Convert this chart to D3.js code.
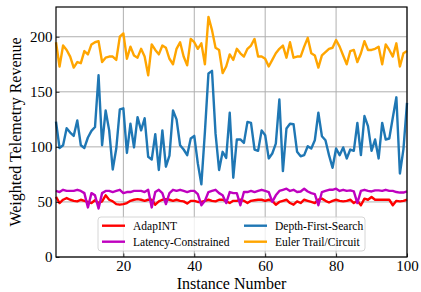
<!DOCTYPE html>
<html>
<head>
<meta charset="utf-8">
<script src="https://cdn.jsdelivr.net/npm/d3@7"></script>
<style>
  html, body { margin: 0; padding: 0; background: #fff; }
  svg text { font-family: "Liberation Serif", "DejaVu Serif", serif; }
</style>
</head>
<body>
<svg id="chart" width="421" height="292"></svg>
<script>
// Series values, instances 1..100
var adapint = [
    54.5, 49, 52, 53.5, 52, 51, 50.5, 52, 51, 50, 49, 51.5, 49, 50.5, 56, 52, 50.5, 48, 47.5, 48,
    49, 51, 52, 52.5, 52, 51, 52, 52, 47.5, 50.5, 52, 52.5, 52, 51, 52, 51, 50.5, 48.5, 51, 51,
    50, 50, 51, 52, 51, 50.5, 52, 52, 50.5, 49, 51, 51, 52, 51, 49, 51, 51.5, 52, 52, 51,
    52, 51, 47.5, 50, 51, 52, 49, 47.5, 50.5, 49, 52, 51, 50, 49, 52, 53, 51, 49.5, 51, 52,
    51, 50.5, 51, 52, 49, 51, 47, 53, 52, 54.5, 52, 52, 52, 52, 52, 47, 51, 50.5, 51, 52
];
var latency = [
    60, 59, 61, 60, 60, 60, 61, 60, 58, 45, 58, 56, 44, 58, 60, 60, 59, 60, 61, 58,
    59, 59, 60, 60, 60, 59, 61, 45, 59, 61, 58, 48, 58, 61, 60, 61, 60, 59, 60, 60,
    57, 47, 51, 59, 60, 61, 58, 56, 49, 59, 58, 58, 47, 59, 59, 60, 59, 60, 61, 60,
    59, 50, 56, 60, 61, 62, 60, 61, 59, 59.5, 62, 59.5, 58, 57, 47, 59, 60, 61, 61, 62,
    60, 61, 60, 60.5, 59.5, 49, 60, 61, 60, 59.5, 60.5, 60.5, 60, 61, 60, 60, 59, 58.5, 58.5, 59.5
];
var dfs = [
    123, 99, 101.5, 117, 113, 110, 124, 101.5, 99, 108.5, 114.5, 118, 165, 101.5, 133, 115, 79.5, 98.5, 134, 135,
    94.5, 121, 99.5, 127, 115, 126, 91, 88.5, 111.5, 79, 115, 82, 92, 133, 125, 101.5, 97.6, 92.5, 107.6, 110,
    85, 66, 113.6, 166.7, 169, 112, 79, 95.5, 90, 131, 72, 106.7, 106.7, 103.6, 122.7, 121.8, 97.6, 96.4, 115, 110.6,
    89.5, 94, 103, 143, 78, 116.7, 121, 120.6, 95.5, 91.5, 92.5, 100.6, 98.5, 106, 131, 109.7, 106, 92.5, 81, 98.5,
    92.5, 99.5, 89.5, 97.6, 96.4, 121.8, 92.5, 128, 118.8, 96.4, 106.7, 89.5, 121.8, 106.7, 107.6, 126.7, 145, 75.8, 98, 140
];
var euler = [
    195, 173, 192, 188, 182, 172, 177, 176, 187, 184, 193, 195, 196, 177, 181, 182, 182, 179, 200, 203,
    180, 191, 183, 181, 189, 182, 165, 193, 188, 184, 192, 190, 180, 175, 189, 195, 182, 174, 198, 195,
    189, 194, 175, 218, 206, 190, 188, 167, 173, 184, 179, 189, 185, 182, 189, 192, 198, 182, 182, 180,
    173, 179, 185, 189, 192, 181, 195, 181, 182, 182, 191, 199, 185, 183, 172, 183, 186, 189, 190, 197,
    191, 183, 175, 187, 188, 177, 185, 196, 188, 188, 189, 191, 175, 193, 188, 182, 194, 173, 185, 187
];

var seriesNames = ['AdapINT', 'Latency-Constrained', 'Depth-First-Search', 'Euler Trail/Circuit'];
var seriesColors = ['#ff0000', '#bf00bf', '#1f77b4', '#ffa500'];
var xTicks = [20, 40, 60, 80, 100];
var yTicks = [0, 50, 100, 150, 200];

var svg = d3.select('#chart');
var margin = { top: 7, right: 14, bottom: 35, left: 56 };
var width = 421 - margin.left - margin.right;
var height = 292 - margin.top - margin.bottom;

var g = svg.append('g').attr('transform', 'translate(' + margin.left + ',' + margin.top + ')');

var x = d3.scaleLinear().domain([1, 100]).range([0, width]);
var y = d3.scaleLinear().domain([0, 227]).range([height, 0]);

// grid
g.append('g').selectAll('line').data(xTicks).enter().append('line')
    .attr('x1', function (d) { return x(d); }).attr('x2', function (d) { return x(d); })
    .attr('y1', 0).attr('y2', height)
    .attr('stroke', '#b0b0b0').attr('stroke-width', 1);
g.append('g').selectAll('line').data(yTicks).enter().append('line')
    .attr('x1', 0).attr('x2', width)
    .attr('y1', function (d) { return y(d); }).attr('y2', function (d) { return y(d); })
    .attr('stroke', '#b0b0b0').attr('stroke-width', 1);

// lines
var line = d3.line()
    .x(function (d, i) { return x(i + 1); })
    .y(function (d) { return y(d); });

[adapint, latency, dfs, euler].forEach(function (vals, k) {
    g.append('path')
        .datum(vals)
        .attr('fill', 'none')
        .attr('stroke', seriesColors[k])
        .attr('stroke-width', 2.4)
        .attr('stroke-linejoin', 'round')
        .attr('d', line);
});

// axes (inward ticks)
var xAxis = g.append('g')
    .attr('transform', 'translate(0,' + height + ')')
    .call(d3.axisBottom(x).tickValues(xTicks).tickSizeInner(-3.5).tickSizeOuter(0).tickPadding(3.5));
var yAxis = g.append('g')
    .call(d3.axisLeft(y).tickValues(yTicks).tickSizeInner(-3.5).tickSizeOuter(0).tickPadding(3.5));
[xAxis, yAxis].forEach(function (ax) {
    ax.attr('font-family', null).attr('font-size', null);
    ax.select('.domain').remove();
    ax.selectAll('.tick line').attr('stroke', '#000').attr('stroke-width', 0.8);
    ax.selectAll('.tick text').attr('fill', '#000')
        .style('font-family', '"Liberation Serif", serif').style('font-size', '15px');
});

// frame
g.append('rect')
    .attr('x', 0).attr('y', 0).attr('width', width).attr('height', height)
    .attr('fill', 'none').attr('stroke', '#000').attr('stroke-width', 1.2);

// axis labels
svg.append('text')
    .attr('x', margin.left + width / 2).attr('y', 289)
    .attr('text-anchor', 'middle').style('font-size', '16px')
    .text('Instance Number');
svg.append('text')
    .attr('transform', 'translate(21,' + (margin.top + height / 2) + ') rotate(-90)')
    .attr('text-anchor', 'middle').style('font-size', '16px')
    .text('Weighted Telemetry Revenue');

// legend
var legend = g.append('g').attr('transform', 'translate(' + (98 - margin.left) + ',' + (217 - margin.top) + ')');
legend.append('rect')
    .attr('width', 267).attr('height', 34).attr('rx', 3)
    .attr('fill', '#fff').attr('fill-opacity', 0.8)
    .attr('stroke', '#cccccc').attr('stroke-width', 0.8);
seriesNames.forEach(function (name, k) {
    var col = Math.floor(k / 2), row = k % 2;
    var lx = 4 + col * 142, ly = 8.7 + row * 16;
    legend.append('line')
        .attr('x1', lx).attr('x2', lx + 23).attr('y1', ly).attr('y2', ly)
        .attr('stroke', seriesColors[k]).attr('stroke-width', 2.4);
    legend.append('text')
        .attr('x', lx + 31).attr('y', ly + 4)
        .style('font-size', '11.5px')
        .text(name);
});
</script>
</body>
</html>
